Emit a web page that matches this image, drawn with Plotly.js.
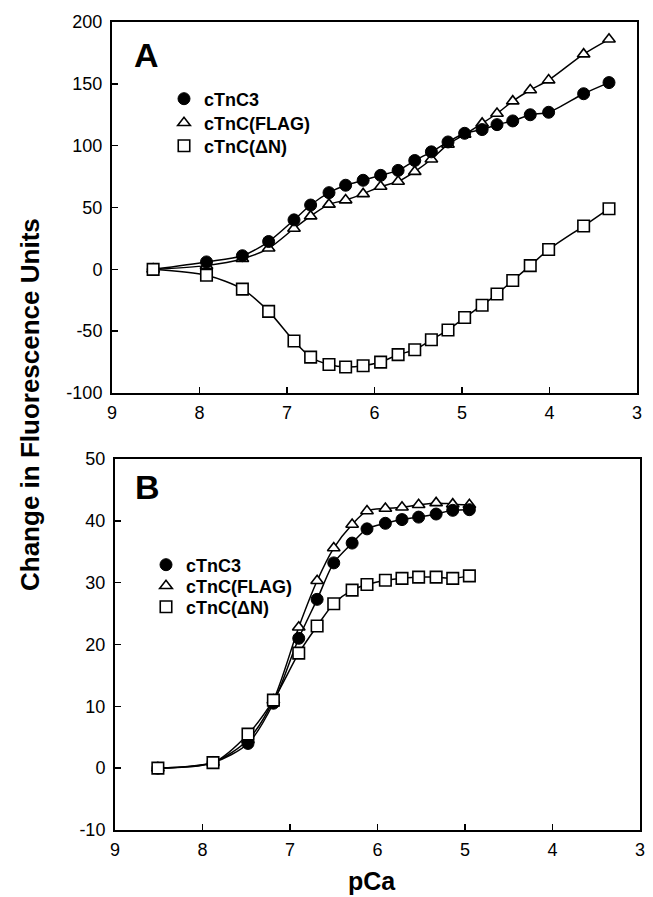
<!DOCTYPE html>
<html>
<head>
<meta charset="utf-8">
<script src="https://cdn.plot.ly/plotly-3.0.1.min.js"></script>
<style>html,body{margin:0;padding:0;background:#fff;}#chart{width:653px;height:897px;}</style>
</head>
<body>
<div id="chart"></div>
<script>
// Panel A data
const pCaA = [8.53, 7.92, 7.51, 7.21, 6.92, 6.73, 6.52, 6.33, 6.13, 5.93, 5.73, 5.54, 5.35, 5.16, 4.97, 4.77, 4.60, 4.42, 4.22, 4.01, 3.61, 3.32];
const cTnC3_A = [0, 6, 11, 22.5, 40, 52, 62, 68, 72, 76, 80, 88, 95, 103, 110, 113, 117, 120, 125, 127, 142, 151];
const flag_A = [0, 3, 8.5, 17, 33, 43, 52.5, 56, 61, 67, 71, 79, 89, 101, 109, 118, 126, 136, 145, 153, 174, 186];
const dN_A = [0, -4.8, -16, -34, -58, -71, -77, -79, -78, -75, -69, -65, -57, -49, -39, -29, -20, -9, 3, 16, 35, 49];

// Panel B data
const pCaB = [8.51, 7.88, 7.48, 7.19, 6.90, 6.69, 6.50, 6.29, 6.12, 5.91, 5.72, 5.53, 5.33, 5.14, 4.95];
const cTnC3_B = [0, 0.9, 4.0, 10.5, 21, 27.3, 33.2, 36.4, 38.7, 39.6, 40.2, 40.6, 41.1, 41.7, 41.8];
const flag_B = [0, 0.9, 4.6, 11, 22.8, 30.3, 35.6, 39.4, 41.6, 42.0, 42.2, 42.6, 42.9, 42.7, 42.6];
const dN_B = [0, 0.9, 5.5, 11, 18.6, 23, 26.6, 28.8, 29.7, 30.4, 30.7, 30.9, 30.9, 30.7, 31.1];

const seriesNames = ["cTnC3", "cTnC(FLAG)", "cTnC(\u0394N)"];
const xTickVals = [9, 8, 7, 6, 5, 4, 3];
const xTickText = ["9", "8", "7", "6", "5", "4", "3"];
const yTickValsA = [-100, -50, 0, 50, 100, 150, 200];
const yTickTextA = ["-100", "-50", "0", "50", "100", "150", "200"];
const yTickValsB = [-10, 0, 10, 20, 30, 40, 50];
const yTickTextB = ["-10", "0", "10", "20", "30", "40", "50"];

const FONT = "Liberation Sans, Arial, Helvetica, sans-serif";
const mk = [
  {symbol: "circle", size: 12, color: "#000", line: {color: "#000", width: 1}},
  {symbol: "triangle-up", size: 11, color: "#fff", line: {color: "#000", width: 1.6}},
  {symbol: "square", size: 11.5, color: "#fff", line: {color: "#000", width: 1.6}}
];
const ln = {color: "#000", width: 1.5, shape: "spline", smoothing: 0.8};

function tr(x, y, i, xa, ya) {
  return {x: x, y: y, xaxis: xa, yaxis: ya, mode: "lines+markers", type: "scatter",
    line: ln, marker: mk[i], showlegend: false, hoverinfo: "skip", cliponaxis: false};
}
function leg(i, xa, ya, lg) {
  return {x: [null], y: [null], xaxis: xa, yaxis: ya, mode: "markers", type: "scatter",
    name: seriesNames[i], marker: mk[i], showlegend: true, legend: lg};
}

const data = [
  tr(pCaA, flag_A, 1, "x", "y"),
  tr(pCaA, cTnC3_A, 0, "x", "y"),
  tr(pCaA, dN_A, 2, "x", "y"),
  tr(pCaB, flag_B, 1, "x2", "y2"),
  tr(pCaB, cTnC3_B, 0, "x2", "y2"),
  tr(pCaB, dN_B, 2, "x2", "y2"),
  leg(0, "x", "y", "legend"), leg(1, "x", "y", "legend2"), leg(2, "x", "y", "legend3"),
  leg(0, "x2", "y2", "legend4"), leg(1, "x2", "y2", "legend5"), leg(2, "x2", "y2", "legend6")
];

const W = 653, H = 897;
function axX(l, r, anchor) {
  return {domain: [l / W, r / W], range: [9, 3], anchor: anchor,
    tickmode: "array", tickvals: xTickVals, ticktext: xTickText,
    ticks: "inside", ticklen: 6, tickwidth: 1.5, tickcolor: "#000",
    showline: true, linecolor: "#000", linewidth: 2, mirror: true,
    showgrid: false, zeroline: false, ticklabelstandoff: 2,
    tickfont: {family: FONT, size: 18, color: "#000"}};
}
function axY(top, bot, rng, tv, tt, anchor) {
  return {domain: [1 - bot / H, 1 - top / H], range: rng, anchor: anchor,
    tickmode: "array", tickvals: tv, ticktext: tt,
    ticks: "inside", ticklen: 6, tickwidth: 1.5, tickcolor: "#000",
    showline: true, linecolor: "#000", linewidth: 2, mirror: true,
    showgrid: false, zeroline: false, ticklabelstandoff: 4,
    tickfont: {family: FONT, size: 18, color: "#000"}};
}
const legFont = {family: FONT, size: 18, color: "#000", weight: "bold"};
function lgd(mx, cy) {
  return {x: (mx - 19) / W, y: 1 - cy / H, xanchor: "left", yanchor: "middle",
    bgcolor: "rgba(0,0,0,0)", font: legFont, itemwidth: 30, borderwidth: 0};
}

const layout = {
  width: W, height: H,
  margin: {l: 0, r: 0, t: 0, b: 0},
  paper_bgcolor: "#fff", plot_bgcolor: "#fff",
  showlegend: true,
  xaxis: axX(112, 637, "y"),
  yaxis: axY(22, 393, [-100, 200], yTickValsA, yTickTextA, "x"),
  xaxis2: axX(115, 640, "y2"),
  yaxis2: axY(459, 830, [-10, 50], yTickValsB, yTickTextB, "x2"),
  legend: lgd(183, 99), legend2: lgd(183, 123), legend3: lgd(183, 146),
  legend4: lgd(165, 565), legend5: lgd(165, 586), legend6: lgd(165, 607),
  annotations: [
    {text: "A", x: 146 / W, y: 1 - 55 / H, xref: "paper", yref: "paper", showarrow: false,
     xanchor: "center", yanchor: "middle", font: {family: FONT, size: 34, color: "#000", weight: "bold"}},
    {text: "B", x: 147 / W, y: 1 - 487 / H, xref: "paper", yref: "paper", showarrow: false,
     xanchor: "center", yanchor: "middle", font: {family: FONT, size: 34, color: "#000", weight: "bold"}},
    {text: "pCa", x: 372 / W, y: 1 - 881 / H, xref: "paper", yref: "paper", showarrow: false,
     xanchor: "center", yanchor: "middle", font: {family: FONT, size: 25, color: "#000", weight: "bold"}},
    {text: "Change in Fluorescence Units", x: 30 / W, y: 1 - 405 / H, xref: "paper", yref: "paper",
     showarrow: false, textangle: -90, xanchor: "center", yanchor: "middle",
     font: {family: FONT, size: 26, color: "#000", weight: "bold"}}
  ]
};

Plotly.newPlot("chart", data, layout, {staticPlot: true, displayModeBar: false});
</script>
</body>
</html>
